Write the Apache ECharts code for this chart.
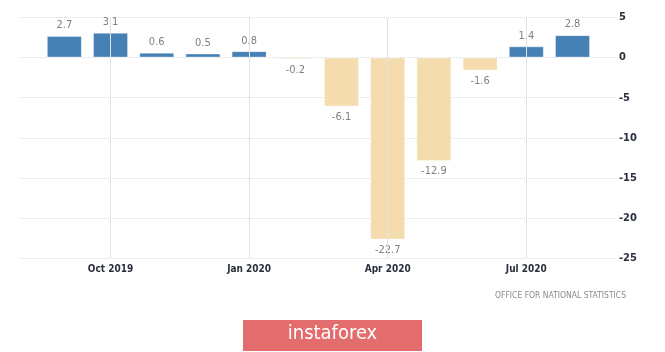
<!DOCTYPE html>
<html>
<head>
<meta charset="utf-8">
<script src="https://cdn.jsdelivr.net/npm/echarts@6/dist/echarts.min.js"></script>
<style>
html,body{margin:0;padding:0;background:#fff;}
#c{width:665px;height:352px;}
</style>
</head>
<body>
<div id="c"></div>
<script>
// Monthly values, Sep 2019 .. Aug 2020
const months = ['Sep 2019','Oct 2019','Nov 2019','Dec 2019','Jan 2020','Feb 2020','Mar 2020','Apr 2020','May 2020','Jun 2020','Jul 2020','Aug 2020'];
const values = [2.7, 3.1, 0.6, 0.5, 0.8, -0.2, -6.1, -22.7, -12.9, -1.6, 1.4, 2.8];
const labelledMonths = ['Oct 2019','Jan 2020','Apr 2020','Jul 2020'];
const yTicks = [5, 0, -5, -10, -15, -20, -25];
const sourceText = 'OFFICE FOR NATIONAL STATISTICS';
const logoText = 'instaforex';

const labelIdx = labelledMonths.map(m => months.indexOf(m));

const chart = echarts.init(document.getElementById('c'), null, {renderer:'canvas'});
const barData = values.map((v, i) => ({
  value: [i, v],
  itemStyle: { color: v >= 0 ? '#4581b5' : '#f5dcae' },
  label: { position: v >= 0 ? 'top' : 'bottom' }
}));

chart.setOption({
  animation: false,
  grid: { left: 20, right: 50, top: 17.5, bottom: 94, containLabel: false },
  xAxis: {
    type: 'value',
    min: -0.96,
    max: 11.92,
    axisLine: { show: false },
    axisTick: { show: false },
    splitLine: { show: false },
    axisLabel: {
      customValues: labelIdx,
      formatter: v => { const i = Math.round(v); return labelIdx.indexOf(i) >= 0 && Math.abs(v - i) < 1e-6 ? months[i] : ''; },
      margin: 6,
      color: '#2a2f3d',
      fontFamily: 'DejaVu Sans Condensed',
      fontSize: 10,
      fontWeight: 'bold'
    }
  },
  yAxis: {
    type: 'value',
    position: 'right',
    min: yTicks[yTicks.length - 1],
    max: yTicks[0],
    interval: 5,
    axisLine: { show: false },
    axisTick: { show: false },
    splitLine: { lineStyle: { color: '#dcdcdc', type: 'dotted', width: 1 } },
    axisLabel: {
      margin: 4,
      color: '#2a2f3d',
      fontFamily: 'DejaVu Sans Condensed',
      fontSize: 11,
      fontWeight: 'bold'
    }
  },
  series: [
    {
      type: 'scatter',
      data: [],
      z: 1,
      silent: true,
      markLine: {
        silent: true,
        symbol: ['none', 'none'],
        label: { show: false },
        lineStyle: { color: '#e2e2e2', type: 'solid', width: 1 },
        data: labelIdx.map(i => ({ xAxis: i }))
      }
    },
    {
      type: 'bar',
      z: 2,
      barWidth: 35,
      data: barData,
      itemStyle: { borderColor: 'rgba(255,255,255,0.35)', borderWidth: 1 },
      label: {
        show: true,
        distance: 5,
        color: '#808080',
        fontFamily: 'DejaVu Sans Condensed',
        fontSize: 11,
        formatter: p => p.value[1].toFixed(1)
      }
    }
  ],
  graphic: [
    {
      type: 'text',
      left: 495,
      top: 291,
      style: { text: sourceText, fill: '#8a8a8a', font: '8.5px "DejaVu Sans Condensed"' }
    },
    {
      type: 'rect',
      left: 243,
      top: 320,
      shape: { width: 179, height: 31 },
      style: { fill: '#e36c6c' }
    },
    {
      type: 'text',
      left: 'center',
      top: 324,
      style: { text: logoText, fill: '#ffffff', font: '20px "DejaVu Sans Condensed"' }
    }
  ]
});
</script>
</body>
</html>
